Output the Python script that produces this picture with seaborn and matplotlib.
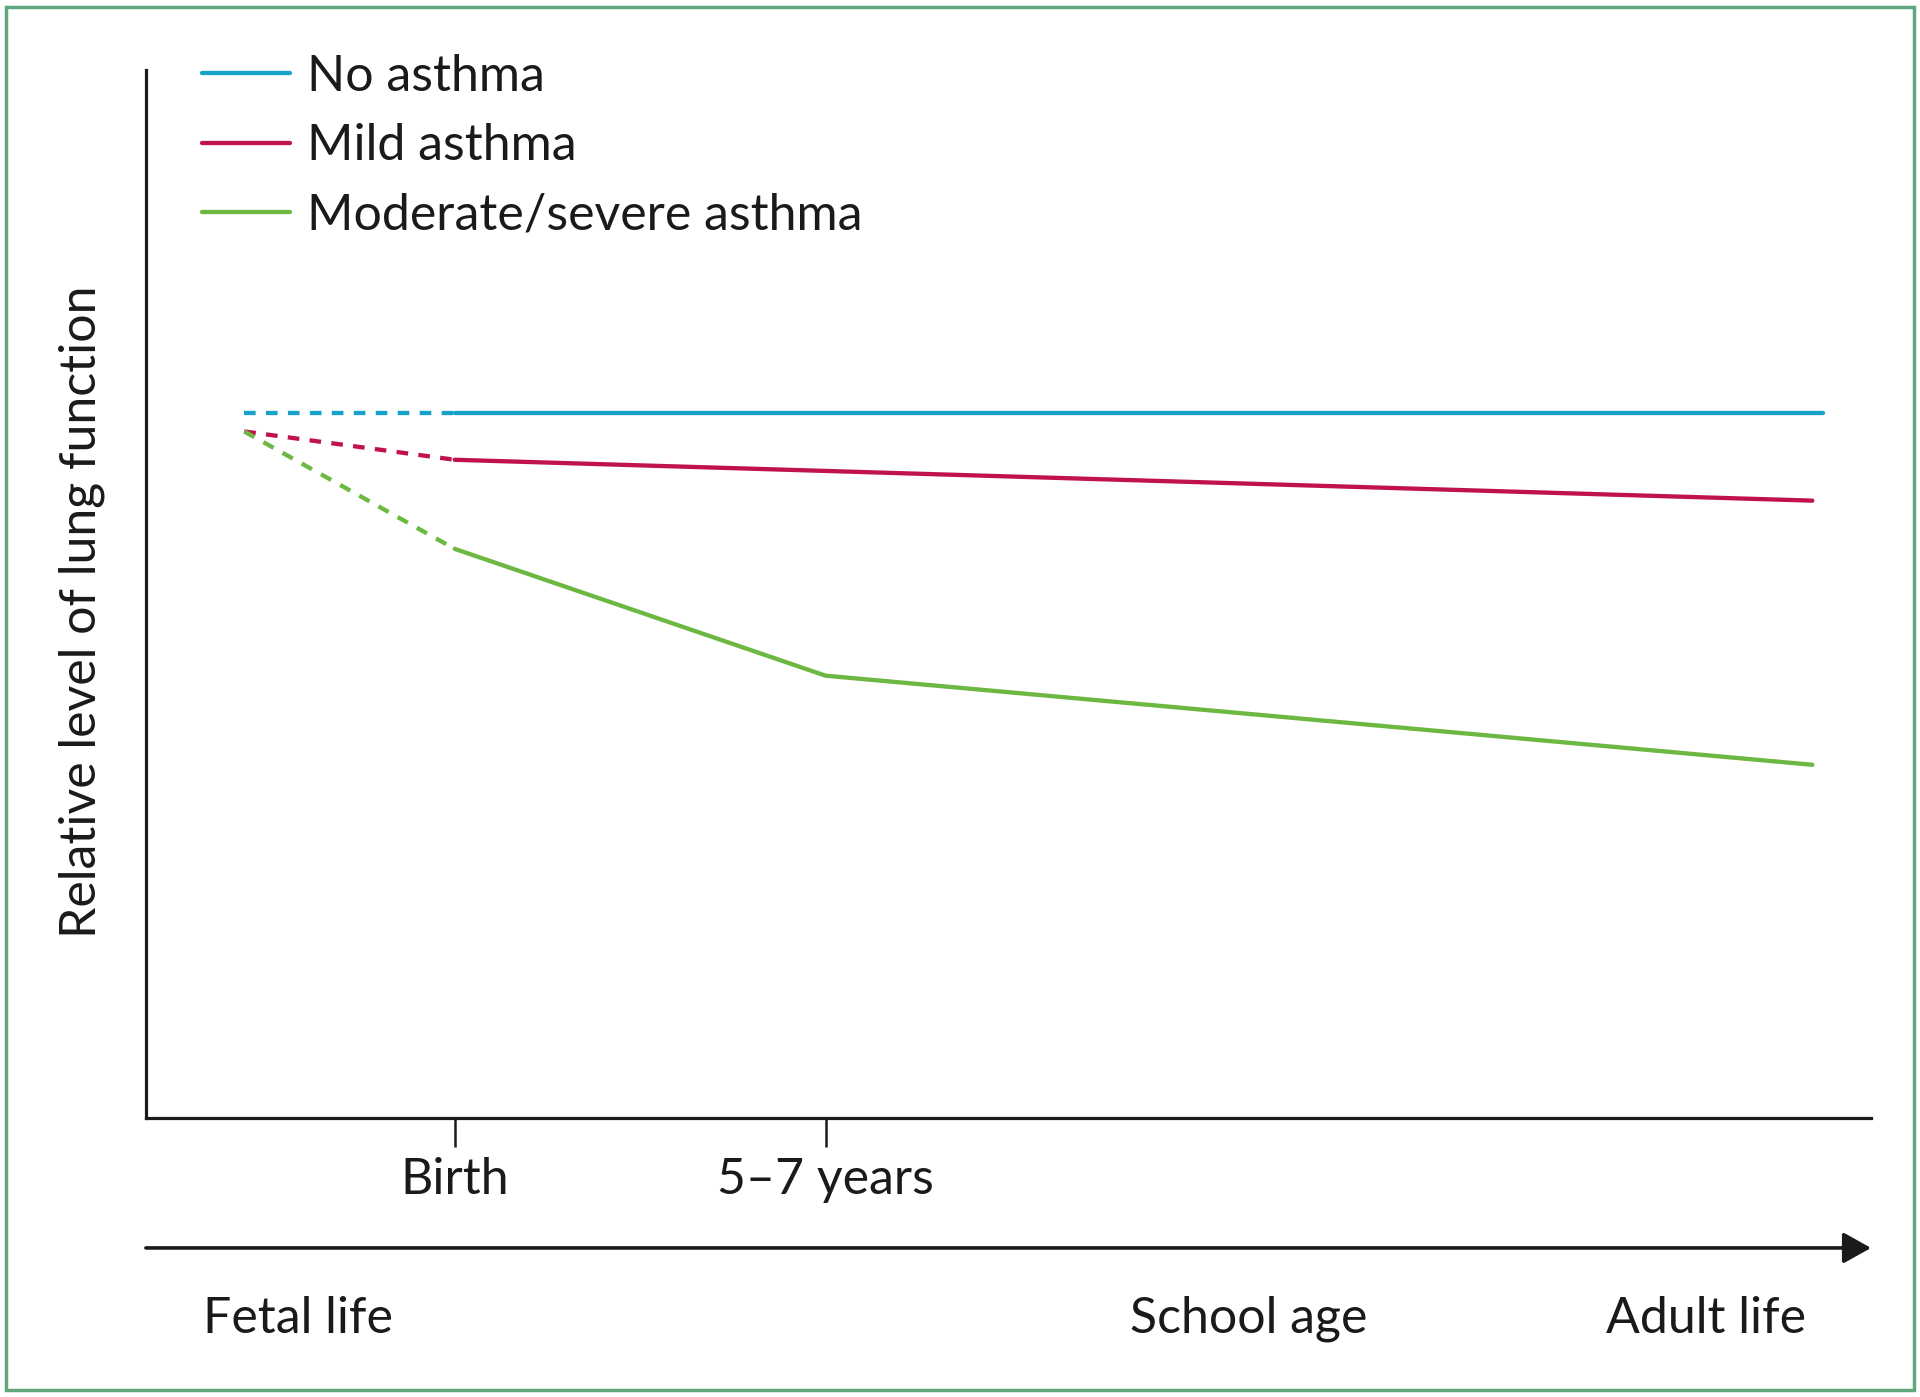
import matplotlib
matplotlib.use('Agg')
import matplotlib.pyplot as plt
from matplotlib.lines import Line2D
from matplotlib.patches import Rectangle
import seaborn as sns
import pandas as pd

sns.set_style('white')
plt.rcParams['font.family'] = ['Lato', 'DejaVu Sans']

# positions along the life-course axis (arbitrary units, axis 0..100)
SERIES = ['No asthma', 'Mild asthma', 'Moderate/severe asthma']
COLORS = ['#17a2c9', '#c0134b', '#6cb843']

no_asthma_x = [5.7, 17.9, 97.2]
no_asthma_y = [67.3, 67.3, 67.3]
mild_x = [5.7, 17.9, 96.6]
mild_y = [65.5, 62.8, 58.9]
modsev_x = [5.7, 17.9, 39.4, 96.6]
modsev_y = [65.5, 54.3, 42.2, 33.7]

TICK_POS = [17.9, 39.4]
TICK_LABELS = ['Birth', '5\u20137 years']
STAGES = ['Fetal life', 'School age', 'Adult life']
YLABEL = 'Relative level of lung function'

# build long table: first segment (before birth) dashed, rest solid
rows = []
for name, xs, ys in zip(SERIES, [no_asthma_x, mild_x, modsev_x], [no_asthma_y, mild_y, modsev_y]):
    for i, (x, y) in enumerate(zip(xs, ys)):
        if i <= 1:
            rows.append((name, 'prenatal', x, y))
        if i >= 1:
            rows.append((name, 'postnatal', x, y))
df = pd.DataFrame(rows, columns=['series', 'phase', 'x', 'y'])

fig = plt.figure(figsize=(19.2, 13.97), dpi=100)
ax = fig.add_axes([0.076, 0.1997, 0.8985, 0.7503])

sns.lineplot(data=df, x='x', y='y', hue='series', style='phase',
             hue_order=SERIES, palette=COLORS,
             dashes={'postnatal': '', 'prenatal': (2.7, 2.4)},
             estimator=None, sort=False, linewidth=3.1, legend=False, ax=ax)

ax.set_xlim(0, 100)
ax.set_ylim(0, 100)
for s in ['top', 'right']:
    ax.spines[s].set_visible(False)
for s in ['left', 'bottom']:
    ax.spines[s].set_color('#1a1a1a')
    ax.spines[s].set_linewidth(2.3)

ax.set_yticks([])
ax.set_xticks(TICK_POS)
ax.set_xticklabels(TICK_LABELS, fontsize=36, color='#1a1a1a')
ax.tick_params(axis='x', direction='out', length=21, width=1.8, color='#1a1a1a', pad=7, bottom=True)
ax.set_xlabel('')
ax.set_ylabel(YLABEL, fontsize=36, color='#1a1a1a')
ax.yaxis.set_label_coords(-0.024, 0.483)

handles = [Line2D([], [], color=c, lw=3.1) for c in COLORS]
ax.legend(handles, SERIES, loc='upper left', bbox_to_anchor=(0.095, 0.976),
          bbox_transform=fig.transFigure, frameon=False, fontsize=36,
          handlelength=1.75, handletextpad=0.35, labelspacing=0.47, borderaxespad=0,
          labelcolor='#1a1a1a')

# time arrow below the axis
ax.annotate('', xy=(0.9745, 0.1067), xytext=(0.076, 0.1067), xycoords='figure fraction',
            textcoords='figure fraction',
            arrowprops=dict(arrowstyle='-|>,head_length=1.7,head_width=0.95',
                            color='#1a1a1a', lw=2.6, shrinkA=0, shrinkB=0))
for label, xf in zip(STAGES, [0.155, 0.6505, 0.8885]):
    fig.text(xf, 0.0558, label, ha='center', va='center', fontsize=36, color='#1a1a1a')

# green frame
fig.patches.append(Rectangle((0.003, 0.005), 0.994, 0.99, transform=fig.transFigure,
                             fill=False, edgecolor='#5ea77f', lw=2.5))

fig.savefig('out.png', dpi=100, facecolor='white')
